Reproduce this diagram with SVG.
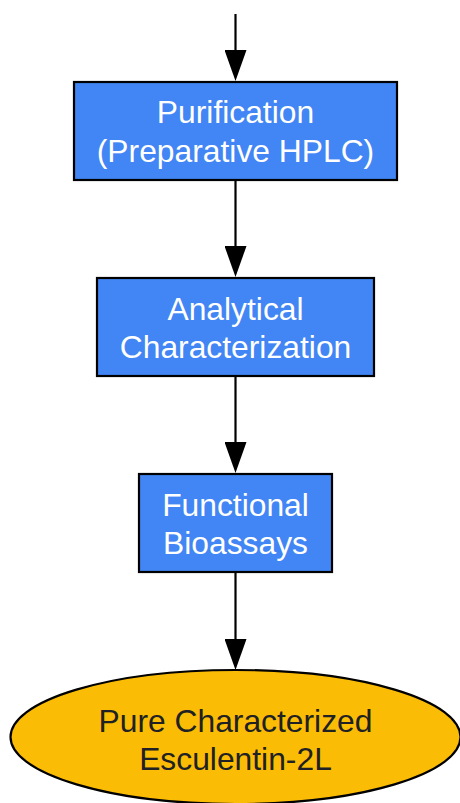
<svg xmlns="http://www.w3.org/2000/svg" width="460" height="803" viewBox="0 0 460 803">
<style>
.box{fill:#4285F4;stroke:#000;stroke-width:2.2}
.ell{fill:#FBBC05;stroke:#000;stroke-width:2.2}
.t{font-family:"Liberation Sans",Arial,sans-serif;font-size:31.8px;text-anchor:middle}
.w{fill:#fff}
.d{fill:#202124}
.edge{stroke:#000;stroke-width:2.2;fill:none;marker-end:url(#ah)}
</style>
<defs>
<marker id="ah" markerUnits="userSpaceOnUse" markerWidth="31" markerHeight="22" refX="0" refY="11" orient="auto" viewBox="0 0 31 22">
<polygon points="0,0 31,11 0,22" fill="#000"/>
</marker>
</defs>
<g id="connectors">
<path class="edge" d="M235.5,14 V50"/>
<path class="edge" d="M235.5,180 V246"/>
<path class="edge" d="M235.5,376 V442"/>
<path class="edge" d="M235.5,572 V639"/>
</g>
<g id="purification">
<rect class="box" x="74" y="82" width="323" height="98"/>
<text class="t w" x="235.5" y="123">Purification</text>
<text class="t w" x="235.5" y="162">(Preparative HPLC)</text>
</g>
<g id="analytical">
<rect class="box" x="97" y="278" width="277" height="98"/>
<text class="t w" x="235.5" y="320">Analytical</text>
<text class="t w" x="235.5" y="358">Characterization</text>
</g>
<g id="bioassays">
<rect class="box" x="139" y="474" width="193" height="98"/>
<text class="t w" x="235.5" y="516">Functional</text>
<text class="t w" x="235.5" y="554">Bioassays</text>
</g>
<g id="result">
<ellipse class="ell" cx="235.5" cy="737" rx="225" ry="67"/>
<text class="t d" x="235.5" y="732">Pure Characterized</text>
<text class="t d" x="235.5" y="770">Esculentin-2L</text>
</g>
</svg>
